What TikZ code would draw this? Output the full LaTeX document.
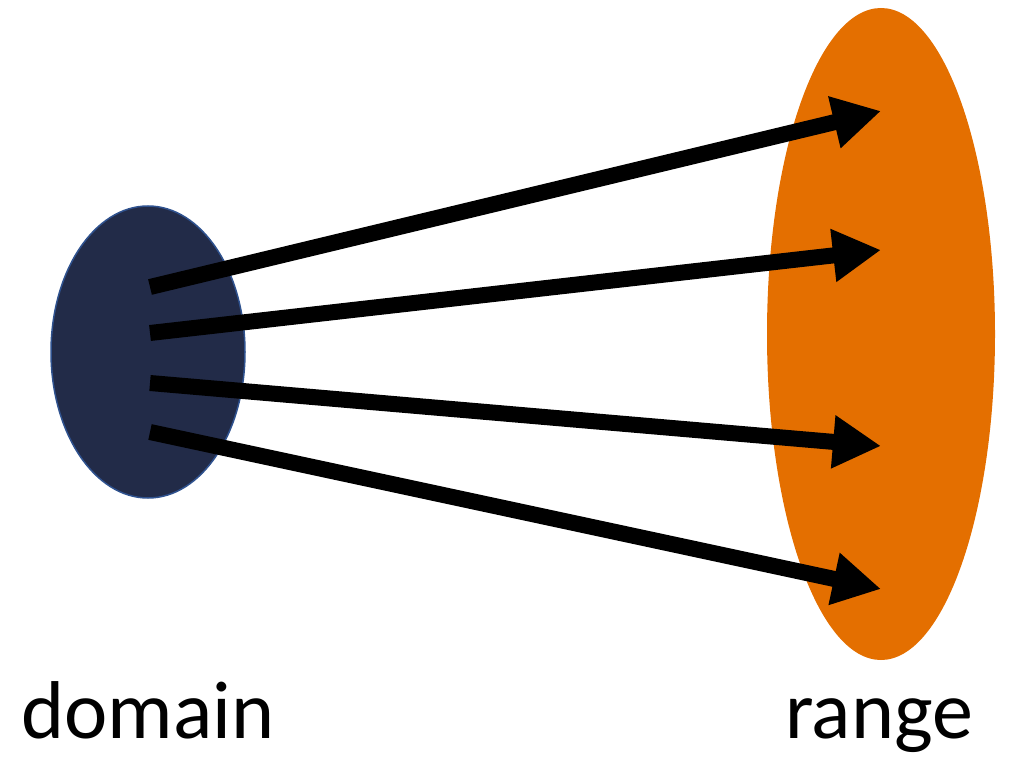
\documentclass[tikz,border=0pt]{standalone}
\usepackage{fontspec}
\setmainfont{Carlito}
\usetikzlibrary{arrows.meta}
\definecolor{navy}{HTML}{222B48}
\definecolor{navyedge}{HTML}{2F528F}
\definecolor{orng}{HTML}{E46F00}
\tikzset{
  maparrow/.style={line width=16pt, -{Triangle[length=48pt,width=50pt]}},
  setlabel/.style={anchor=base, inner sep=0pt, font=\fontsize{82}{90}\selectfont}
}
\begin{document}
\begin{tikzpicture}[x=1pt,y=-1pt]
\useasboundingbox (0,0) rectangle (1010,757);
\fill[orng] (881,334) ellipse [x radius=114, y radius=326];
\filldraw[fill=navy, draw=navyedge, line width=1.5pt] (148,352) ellipse [x radius=97, y radius=146];
\coordinate (s1) at (150,287);
\coordinate (s2) at (150,333);
\coordinate (s3) at (150,383);
\coordinate (s4) at (150,432);
\coordinate (t1) at (881,111);
\coordinate (t2) at (881,250);
\coordinate (t3) at (881,446);
\coordinate (t4) at (881,589);
\draw[maparrow] (s1) -- (t1);
\draw[maparrow] (s2) -- (t2);
\draw[maparrow] (s3) -- (t3);
\draw[maparrow] (s4) -- (t4);
\node[setlabel] (dom) at (148,738) {domain};
\node[setlabel] (ran) at (879,738) {range};
\end{tikzpicture}
\end{document}
